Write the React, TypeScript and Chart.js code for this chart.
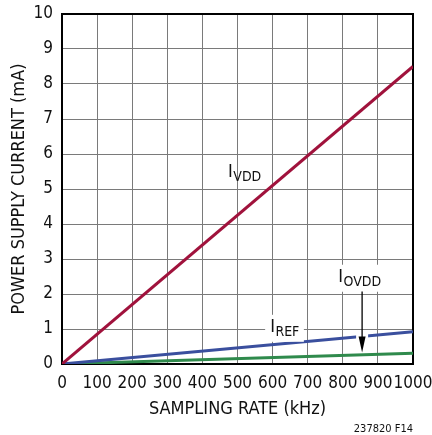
import React, { useEffect, useRef } from "react";
import { Chart, registerables } from "chart.js";

Chart.register(...registerables);

const samplingRate = [0, 1000];
const iVdd = [0, 8.5];
const iRef = [0, 0.92];
const iOvdd = [0, 0.31];

const xTicks = [0, 100, 200, 300, 400, 500, 600, 700, 800, 900, 1000];
const yTicks = [0, 1, 2, 3, 4, 5, 6, 7, 8, 9, 10];

const FONT = "'DejaVu Sans Condensed', 'Liberation Sans Narrow', sans-serif";
const RED = "#a0123c";
const BLUE = "#3a4f9e";
const GREEN = "#2f8a4c";

const toPts = (ys: number[]) => samplingRate.map((x, i) => ({ x, y: ys[i] }));

const decor = {
  id: "decor",
  beforeDatasetsDraw(chart: any) {
    const { ctx, chartArea: a } = chart;
    ctx.save();
    ctx.strokeStyle = "#000";
    ctx.lineWidth = 2;
    ctx.strokeRect(a.left, a.top, a.right - a.left, a.bottom - a.top);
    ctx.restore();
  },
  afterDatasetsDraw(chart: any) {
    const { ctx, chartArea: a } = chart;
    const xs = chart.scales.x;
    const ys = chart.scales.y;
    const px = (v: number) => xs.getPixelForValue(v);
    const py = (v: number) => ys.getPixelForValue(v);
    ctx.save();

    const label = (main: string, sub: string, x: number, y: number, bg: boolean) => {
      ctx.font = `18px ${FONT}`;
      const w1 = ctx.measureText(main).width;
      ctx.font = `14px ${FONT}`;
      const w2 = ctx.measureText(sub).width;
      if (bg) {
        ctx.fillStyle = "#fff";
        ctx.fillRect(x - 5, y - 17, w1 + w2 + 10, 27);
      }
      ctx.fillStyle = "#111";
      ctx.textBaseline = "alphabetic";
      ctx.textAlign = "left";
      ctx.font = `18px ${FONT}`;
      ctx.fillText(main, x, y);
      ctx.font = `14px ${FONT}`;
      ctx.fillText(sub, x + w1 + 0.5, y + 4);
    };

    // IVDD
    label("I", "VDD", px(473), py(5.34), false);
    // IREF
    label("I", "REF", px(593), py(0.92), true);
    // IOVDD
    label("I", "OVDD", px(787), py(2.35), true);

    // arrow
    const ax = px(855);
    const yTop = py(2.07);
    const yTip = py(0.33);
    // gap in blue line
    ctx.fillStyle = "#fff";
    ctx.fillRect(ax - 6, py(0.95), 12, py(0.7) - py(0.95));
    ctx.strokeStyle = "#000";
    ctx.lineWidth = 1.3;
    ctx.beginPath();
    ctx.moveTo(ax, yTop);
    ctx.lineTo(ax, yTip - 12);
    ctx.stroke();
    ctx.fillStyle = "#000";
    ctx.beginPath();
    ctx.moveTo(ax - 3.5, yTip - 16);
    ctx.lineTo(ax + 3.5, yTip - 16);
    ctx.lineTo(ax, yTip);
    ctx.closePath();
    ctx.fill();

    // axis titles
    ctx.fillStyle = "#111";
    ctx.font = `18px ${FONT}`;
    ctx.textAlign = "center";
    ctx.textBaseline = "middle";
    ctx.fillText("SAMPLING RATE (kHz)", (a.left + a.right) / 2, 409);
    ctx.save();
    ctx.translate(19, (a.top + a.bottom) / 2);
    ctx.rotate(-Math.PI / 2);
    ctx.fillText("POWER SUPPLY CURRENT (mA)", 0, 0);
    ctx.restore();

    ctx.font = `11px ${FONT}`;
    ctx.textAlign = "right";
    ctx.fillText("237820 F14", 413, 429);
    ctx.restore();
  },
};

export default function App() {
  const ref = useRef<HTMLCanvasElement>(null);
  useEffect(() => {
    document.body.style.margin = "0";
    const chart = new Chart(ref.current!, {
      type: "line",
      data: {
        datasets: [
          { label: "IVDD", data: toPts(iVdd), borderColor: RED, borderWidth: 3, pointRadius: 0 },
          { label: "IREF", data: toPts(iRef), borderColor: BLUE, borderWidth: 3, pointRadius: 0 },
          { label: "IOVDD", data: toPts(iOvdd), borderColor: GREEN, borderWidth: 3, pointRadius: 0 },
        ],
      },
      options: {
        responsive: false,
        animation: false,
        layout: { padding: { top: 14, right: 19, left: 0, bottom: 0 } },
        plugins: { legend: { display: false }, tooltip: { enabled: false } },
        scales: {
          x: {
            type: "linear",
            min: xTicks[0],
            max: xTicks[xTicks.length - 1],
            afterBuildTicks: (s: any) => { s.ticks = xTicks.map((v) => ({ value: v })); },
            afterFit: (s: any) => { s.height = 71; s.paddingLeft = 0; s.paddingRight = 0; },
            grid: { color: "#7a7a7a", lineWidth: 1, drawTicks: false },
            border: { display: false },
            ticks: {
              color: "#111", font: { family: FONT, size: 17 }, padding: 9, maxRotation: 0, autoSkip: false,
              callback: (v: any) => String(v),
            },
          },
          y: {
            type: "linear",
            min: yTicks[0],
            max: yTicks[yTicks.length - 1],
            afterBuildTicks: (s: any) => { s.ticks = yTicks.map((v) => ({ value: v })); },
            afterFit: (s: any) => { s.width = 62; s.paddingTop = 0; s.paddingBottom = 0; },
            grid: { color: "#7a7a7a", lineWidth: 1, drawTicks: false },
            border: { display: false },
            ticks: {
              color: "#111", font: { family: FONT, size: 17 }, padding: 9, autoSkip: false,
              callback: (v: any) => String(v),
            },
          },
        },
      },
      plugins: [decor],
    });
    return () => chart.destroy();
  }, []);
  return (
    <div style={{ position: "absolute", left: 0, top: 0, width: 432, height: 435, background: "#fff" }}>
      <canvas ref={ref} width={432} height={435} />
    </div>
  );
}
